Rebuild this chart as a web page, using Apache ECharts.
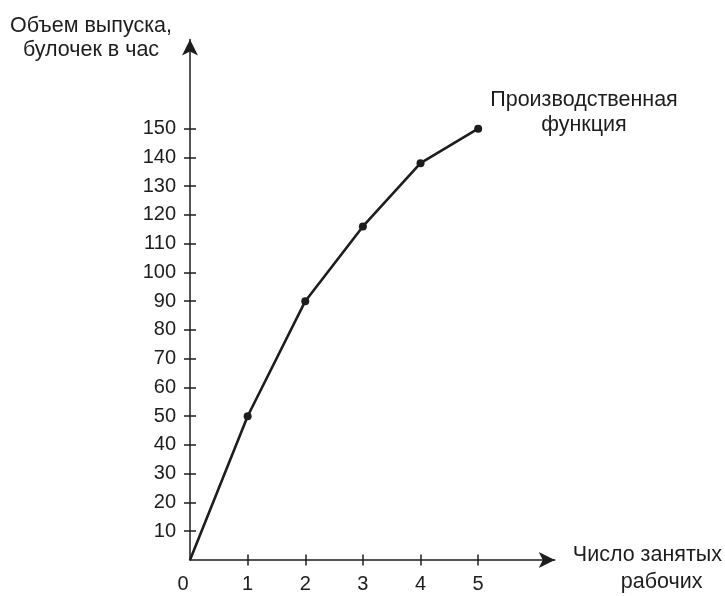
<!DOCTYPE html>
<html>
<head>
<meta charset="utf-8">
<script src="https://cdn.jsdelivr.net/npm/echarts@6/dist/echarts.min.js"></script>
<style>
html,body{margin:0;padding:0;background:#fff;}
#chart{width:725px;height:596px;}
</style>
</head>
<body>
<div id="chart"></div>
<script>
// Data
var workers = [0, 1, 2, 3, 4, 5];
var output = [0, 50, 90, 116, 138, 150];
var yTickValues = [10, 20, 30, 40, 50, 60, 70, 80, 90, 100, 110, 120, 130, 140, 150];
var xTickValues = [1, 2, 3, 4, 5];
var xLabelValues = [0, 1, 2, 3, 4, 5];
var yTitle = 'Объем выпуска,\nбулочек в час';
var xTitleLine1 = 'Число занятых';
var xTitleLine2 = 'рабочих';
var curveLabel = 'Производственная\nфункция';

var FONT = '"Liberation Sans", Arial, Helvetica, sans-serif';
var INK = '#1f1c1d';
var TITLE_SIZE = 21.5;

var seriesData = workers.map(function (w, i) {
  var item = { value: [w, output[i]] };
  if (i === 0) item.symbol = 'none';
  return item;
});

var chart = echarts.init(document.getElementById('chart'), null, { renderer: 'canvas' });

var axisLineStyle = { color: INK, width: 1.5 };

chart.setOption({
  backgroundColor: '#ffffff',
  animation: false,
  textStyle: { fontFamily: FONT, color: INK },
  grid: { left: 190, right: 170, top: 39.5, bottom: 28, containLabel: false },
  xAxis: [
    {
      type: 'value', min: 0, max: 6.33, position: 'bottom',
      splitLine: { show: false },
      axisLine: { show: true, lineStyle: axisLineStyle, symbol: ['none', 'arrow'], symbolSize: [12, 16] },
      axisTick: { show: true, inside: false, length: 5.5, lineStyle: axisLineStyle, customValues: xTickValues },
      axisLabel: {
        show: true, margin: 14, fontSize: 20, fontFamily: FONT, color: INK,
        customValues: xLabelValues,
        formatter: function (v) { return v === 0 ? '{z|0}' : String(v); },
        rich: { z: { fontSize: 20, fontFamily: FONT, color: INK, padding: [0, 14, 0, 0] } }
      },
      name: '{a|' + xTitleLine1 + '}\n{b|' + xTitleLine2 + '}',
      nameLocation: 'end', nameGap: 18,
      nameTextStyle: {
        fontSize: TITLE_SIZE, fontFamily: FONT, color: INK, align: 'left', verticalAlign: 'middle', lineHeight: 27,
        padding: [18, 0, 0, 0],
        rich: {
          a: { fontSize: TITLE_SIZE, fontFamily: FONT, color: INK, lineHeight: 27 },
          b: { fontSize: TITLE_SIZE, fontFamily: FONT, color: INK, lineHeight: 27, padding: [0, 0, 0, 48] }
        }
      }
    },
    {
      type: 'value', min: 0, max: 6.33, position: 'bottom',
      splitLine: { show: false },
      axisLine: { show: false },
      axisTick: { show: true, inside: true, length: 5.5, lineStyle: axisLineStyle, customValues: xTickValues },
      axisLabel: { show: false }
    }
  ],
  yAxis: [
    {
      type: 'value', min: 0, max: 181, position: 'left',
      splitLine: { show: false },
      axisLine: { show: true, lineStyle: axisLineStyle, symbol: ['none', 'arrow'], symbolSize: [12, 16] },
      axisTick: { show: true, inside: false, length: 6, lineStyle: axisLineStyle, customValues: yTickValues },
      axisLabel: { show: true, margin: 14, fontSize: 20, fontFamily: FONT, color: INK, customValues: yTickValues }
    },
    {
      type: 'value', min: 0, max: 181, position: 'left',
      splitLine: { show: false },
      axisLine: { show: false },
      axisTick: { show: true, inside: true, length: 6, lineStyle: axisLineStyle, customValues: yTickValues },
      axisLabel: { show: false }
    }
  ],
  graphic: [
    {
      type: 'text', x: 91, y: 14,
      style: { text: yTitle, textAlign: 'center', textVerticalAlign: 'top', font: TITLE_SIZE + 'px ' + FONT, fill: INK, lineHeight: 24 }
    },
    {
      type: 'text', x: 584, y: 88,
      style: { text: curveLabel, textAlign: 'center', textVerticalAlign: 'top', font: TITLE_SIZE + 'px ' + FONT, fill: INK, lineHeight: 25 }
    }
  ],
  series: [
    {
      type: 'line', xAxisIndex: 0, yAxisIndex: 0,
      data: seriesData,
      symbol: 'circle', symbolSize: 8, showSymbol: true,
      lineStyle: { color: INK, width: 2.6 },
      itemStyle: { color: INK, borderWidth: 0 },
      emphasis: { disabled: true },
      silent: true
    }
  ]
});
</script>
</body>
</html>
